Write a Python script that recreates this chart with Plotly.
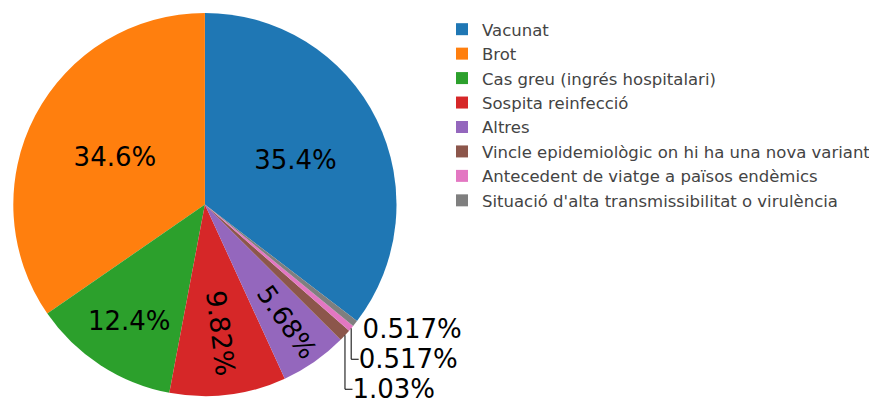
import plotly.graph_objects as go

labels = [
    "Vacunat",
    "Brot",
    "Cas greu (ingrés hospitalari)",
    "Sospita reinfecció",
    "Altres",
    "Vincle epidemiològic on hi ha una nova variant",
    "Antecedent de viatge a països endèmics",
    "Situació d'alta transmissibilitat o virulència",
]
counts = [137, 134, 48, 38, 22, 4, 2, 2]
colors = ["#1f77b4", "#ff7f0e", "#2ca02c", "#d62728", "#9467bd",
          "#8c564b", "#e377c2", "#7f7f7f"]
# slightly larger text on the red slice so plotly turns it radially, like the original
text_sizes = [26, 26, 26, 27, 26, 26, 26, 26]

fig = go.Figure(go.Pie(
    labels=labels, values=counts,
    marker=dict(colors=colors),
    textinfo="percent",
    textfont=dict(size=text_sizes, color="black"),
    domain=dict(x=[0, 386 / 877], y=[6 / 401, 398 / 401]),
))
fig.update_layout(
    width=877, height=401,
    font=dict(family="DejaVu Sans", color="#444"),
    margin=dict(l=0, r=0, t=0, b=0),
    legend=dict(x=0.492, y=0.995, yanchor="top", font=dict(size=16.5)),
    paper_bgcolor="white",
)
fig.write_html("out.html")
